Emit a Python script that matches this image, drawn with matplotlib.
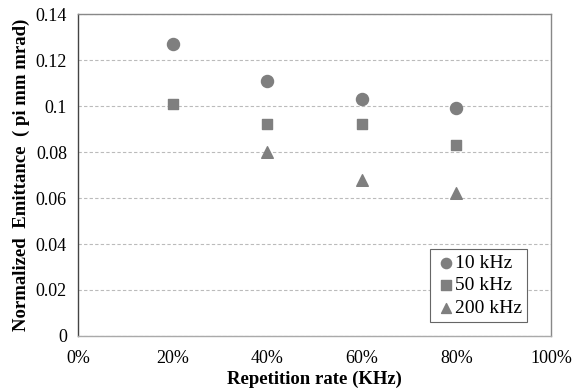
import matplotlib
matplotlib.use("Agg")
import matplotlib.pyplot as plt
from matplotlib.ticker import FuncFormatter

plt.rcParams['font.family'] = ['Liberation Serif', 'DejaVu Serif']

x = [0.2, 0.4, 0.6, 0.8]
x200 = [0.4, 0.6, 0.8]
e10 = [0.127, 0.111, 0.103, 0.099]
e50 = [0.101, 0.092, 0.092, 0.083]
e200 = [0.080, 0.068, 0.062]

fig = plt.figure(figsize=(5.79, 3.91), dpi=100)
ax = fig.add_axes([0.1347, 0.1407, 0.8169, 0.8233])
c = '#7f7f7f'
ax.scatter(x, e10, marker='o', s=75, color=c, label='10 kHz', zorder=3)
ax.scatter(x, e50, marker='s', s=60, color=c, label='50 kHz', zorder=3)
ax.scatter(x200, e200, marker='^', s=70, color=c, label='200 kHz', zorder=3)

ax.set_xlim(0, 1.0)
ax.set_ylim(0, 0.14)
ax.set_xticks([0, 0.2, 0.4, 0.6, 0.8, 1.0])
ax.xaxis.set_major_formatter(FuncFormatter(lambda v, p: f"{int(round(v*100))}%"))
ax.set_yticks([0, 0.02, 0.04, 0.06, 0.08, 0.1, 0.12, 0.14])
ax.set_yticklabels(['0', '0.02', '0.04', '0.06', '0.08', '0.1', '0.12', '0.14'])
ax.tick_params(length=0, labelsize=13)
ax.tick_params(axis='x', pad=10)
ax.tick_params(axis='y', pad=8)
ax.yaxis.grid(True, linestyle=(0, (3, 2)), color='#bbbbbb', linewidth=0.8)
ax.set_axisbelow(True)
for s in ax.spines.values():
    s.set_color('#888888')
    s.set_linewidth(1.0)
ax.spines['left'].set_color('#444444')
ax.spines['bottom'].set_color('#aaaaaa')

ax.set_xlabel('Repetition rate (KHz)', fontsize=13.5, fontweight='bold', labelpad=3)
ax.set_ylabel('Normalized  Emittance  ( pi mm mrad)', fontsize=13.5, fontweight='bold', labelpad=4)

leg = ax.legend(loc='lower right', bbox_to_anchor=(0.95, 0.045), fontsize=14,
                handletextpad=-0.05, handlelength=1.1, borderpad=0.25, labelspacing=0.25,
                borderaxespad=0, fancybox=False, framealpha=1, edgecolor='#666666', markerscale=0.85)
leg.get_frame().set_linewidth(0.8)

fig.savefig('out.png', dpi=100)
